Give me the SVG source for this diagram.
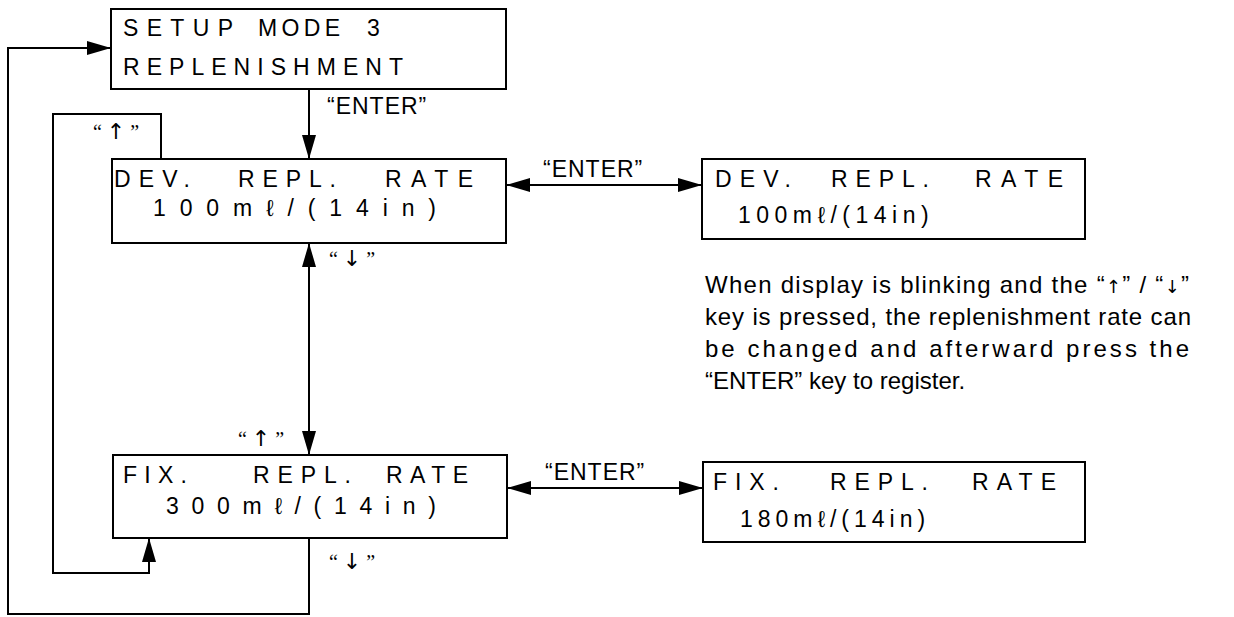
<svg xmlns="http://www.w3.org/2000/svg" width="1234" height="617" viewBox="0 0 1234 617">
<style>
.box{fill:#fff;stroke:#000;stroke-width:2}
.t{font-family:"Liberation Sans",Arial,sans-serif;font-size:23px;fill:#000}
.lbl{font-family:"Liberation Sans",Arial,sans-serif;font-size:23px;fill:#000;letter-spacing:1px}
.key{font-family:"Liberation Serif","Liberation Sans",serif;font-size:20px;fill:#000;text-anchor:middle}
.ar{font-family:"DejaVu Sans",sans-serif;font-size:22px;fill:#000}
.par{font-family:"DejaVu Sans",sans-serif;font-size:18px;fill:#000}
.p{font-family:"Liberation Sans",Arial,sans-serif;font-size:24px;fill:#000}
.c{fill:none;stroke:#000;stroke-width:2}
</style>
<defs>
<marker id="ah" viewBox="0 0 24 14" refX="24" refY="7" markerWidth="24" markerHeight="14" markerUnits="userSpaceOnUse" orient="auto-start-reverse">
<path d="M0,0 L24,7 L0,14 z" fill="#000"/>
</marker>
</defs>
<rect width="1234" height="617" fill="#fff"/>
<g id="connectors">
<path class="c" d="M309,89 V159" marker-end="url(#ah)"/>
<path class="c" d="M309,243 V455" marker-start="url(#ah)" marker-end="url(#ah)"/>
<path class="c" d="M506,185 H702" marker-start="url(#ah)" marker-end="url(#ah)"/>
<path class="c" d="M507,488 H703" marker-start="url(#ah)" marker-end="url(#ah)"/>
<path class="c" d="M309,538 V614 H8 V48 H111" marker-end="url(#ah)"/>
<path class="c" d="M161,159 V114 H53 V573 H149 V538" marker-end="url(#ah)"/>
<text class="lbl" x="327" y="114">“ENTER”</text>
<text class="lbl" x="543" y="177">“ENTER”</text>
<text class="lbl" x="545" y="480">“ENTER”</text>
<text class="key" x="116" y="139">“ <tspan class="ar">↑</tspan> ”</text>
<text class="key" x="352" y="266">“ <tspan class="ar">↓</tspan> ”</text>
<text class="key" x="261" y="446">“ <tspan class="ar">↑</tspan> ”</text>
<text class="key" x="352" y="569">“ <tspan class="ar">↓</tspan> ”</text>
</g>
<g id="setup">
<rect class="box" x="111" y="9" width="395" height="80"/>
<text class="t" y="36"><tspan x="123" textLength="110">SETUP</tspan><tspan x="258" textLength="82">MODE</tspan><tspan x="367">3</tspan></text>
<text class="t" x="123" y="75" textLength="280">REPLENISHMENT</text>
</g>
<g id="dev-left">
<rect class="box" x="112" y="159" width="394" height="84"/>
<text class="t" y="187"><tspan x="114" textLength="76">DEV.</tspan><tspan x="238" textLength="98">REPL.</tspan><tspan x="385" textLength="88">RATE</tspan></text>
<text class="t" x="153" y="216" textLength="283">100mℓ/(14in)</text>
</g>
<g id="dev-right">
<rect class="box" x="702" y="159" width="383" height="80"/>
<text class="t" y="187"><tspan x="715" textLength="76">DEV.</tspan><tspan x="831" textLength="98">REPL.</tspan><tspan x="975" textLength="88">RATE</tspan></text>
<text class="t" x="738" y="223" style="letter-spacing:5.5px">100mℓ/(14in)</text>
</g>
<g id="fix-left">
<rect class="box" x="113" y="455" width="394" height="83"/>
<text class="t" y="483"><tspan x="123" textLength="64">FIX.</tspan><tspan x="253" textLength="98">REPL.</tspan><tspan x="386" textLength="82">RATE</tspan></text>
<text class="t" x="166" y="514" textLength="270">300mℓ/(14in)</text>
</g>
<g id="fix-right">
<rect class="box" x="703" y="462" width="382" height="80"/>
<text class="t" y="490"><tspan x="713" textLength="66">FIX.</tspan><tspan x="830" textLength="98">REPL.</tspan><tspan x="972" textLength="84">RATE</tspan></text>
<text class="t" x="740" y="527" style="letter-spacing:5px">180mℓ/(14in)</text>
</g>
<g id="note">
<text class="p" x="705" y="293" textLength="484">When display is blinking and the “<tspan class="par">↑</tspan>” / “<tspan class="par">↓</tspan>”</text>
<text class="p" x="705" y="325" textLength="486">key is pressed, the replenishment rate can</text>
<text class="p" x="705" y="357" textLength="484">be changed and afterward press the</text>
<text class="p" x="705" y="389">“ENTER” key to register.</text>
</g>
</svg>
